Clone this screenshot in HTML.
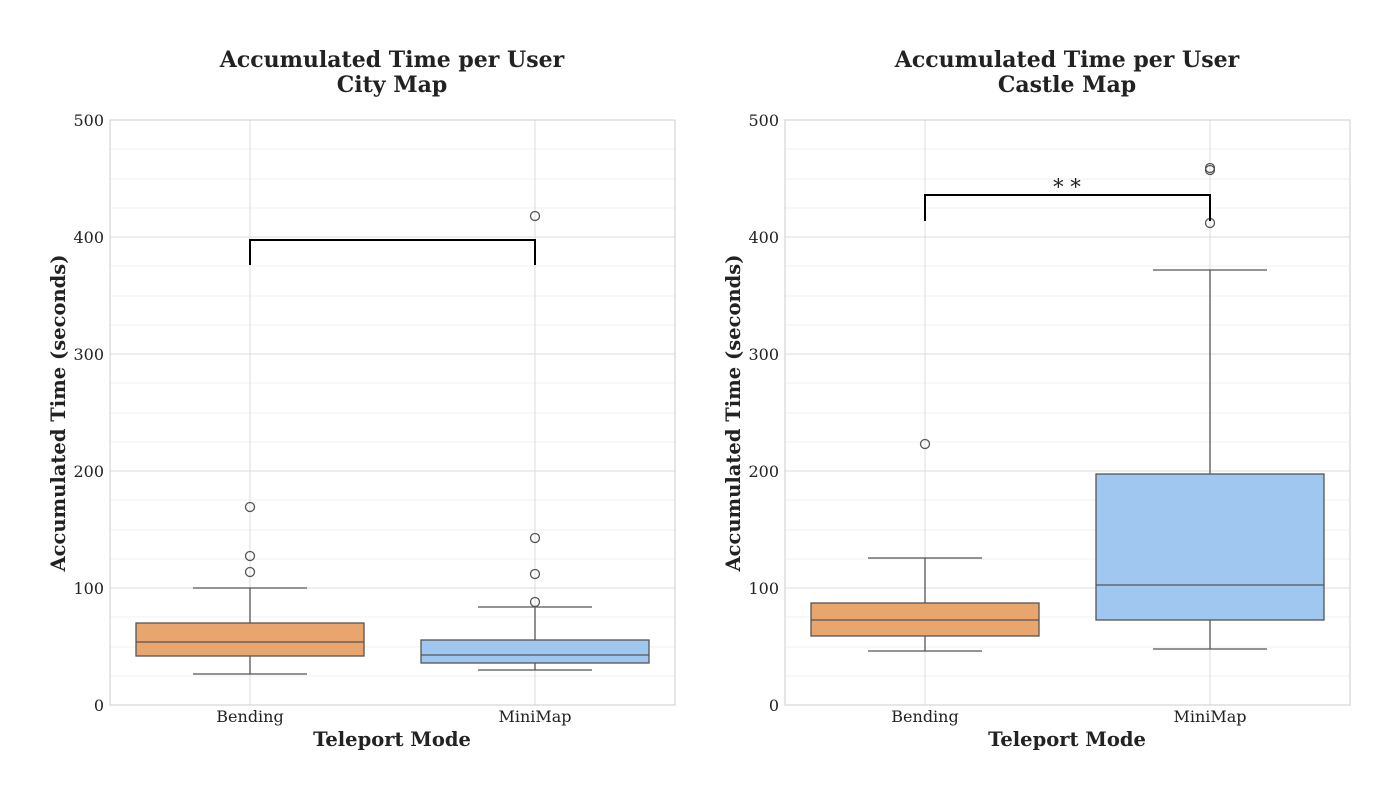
<!DOCTYPE html>
<html><head><style>body{margin:0;background:#fff}svg{display:block}</style></head><body>
<svg width="1400" height="800" xmlns="http://www.w3.org/2000/svg" font-family="DejaVu Serif, Liberation Serif, serif">
<rect width="1400" height="800" fill="#fff"/>
<g id="L">
<g stroke="#f0f0f0" stroke-width="1">
<line x1="110" x2="675" y1="676" y2="676"/><line x1="110" x2="675" y1="647" y2="647"/><line x1="110" x2="675" y1="617" y2="617"/>
<line x1="110" x2="675" y1="559" y2="559"/><line x1="110" x2="675" y1="530" y2="530"/><line x1="110" x2="675" y1="500" y2="500"/>
<line x1="110" x2="675" y1="442" y2="442"/><line x1="110" x2="675" y1="413" y2="413"/><line x1="110" x2="675" y1="383" y2="383"/>
<line x1="110" x2="675" y1="325" y2="325"/><line x1="110" x2="675" y1="296" y2="296"/><line x1="110" x2="675" y1="266" y2="266"/>
<line x1="110" x2="675" y1="208" y2="208"/><line x1="110" x2="675" y1="179" y2="179"/><line x1="110" x2="675" y1="149" y2="149"/>
</g>
<g stroke="#dcdcdc" stroke-width="1">
<line x1="110" x2="675" y1="588" y2="588"/><line x1="110" x2="675" y1="471" y2="471"/><line x1="110" x2="675" y1="354" y2="354"/><line x1="110" x2="675" y1="237" y2="237"/>
<line x1="250" x2="250" y1="120" y2="705"/><line x1="535" x2="535" y1="120" y2="705"/>
</g>
<rect x="110" y="120" width="565" height="585" fill="none" stroke="#cccccc"/>
</g>
<use href="#L" x="675"/>
<g font-size="16" fill="#222" text-anchor="end">
<text x="104" y="711">0</text><text x="104" y="594">100</text><text x="104" y="477">200</text><text x="104" y="360">300</text><text x="104" y="243">400</text><text x="104" y="126">500</text>
<text x="779" y="711">0</text><text x="779" y="594">100</text><text x="779" y="477">200</text><text x="779" y="360">300</text><text x="779" y="243">400</text><text x="779" y="126">500</text>
</g>
<g font-size="16" fill="#222" text-anchor="middle">
<text x="250" y="722">Bending</text><text x="535" y="722">MiniMap</text>
<text x="925" y="722">Bending</text><text x="1210" y="722">MiniMap</text>
</g>
<g font-size="19.5" font-weight="bold" fill="#222" text-anchor="middle">
<text x="392" y="746">Teleport Mode</text><text x="1067" y="746">Teleport Mode</text>
<text transform="translate(65,413) rotate(-90)">Accumulated Time (seconds)</text>
<text transform="translate(740,413) rotate(-90)">Accumulated Time (seconds)</text>
</g>
<g font-size="22" font-weight="bold" fill="#222" text-anchor="middle">
<text x="392" y="67">Accumulated Time per User</text><text x="392" y="92">City Map</text>
<text x="1067" y="67">Accumulated Time per User</text><text x="1067" y="92">Castle Map</text>
</g>
<g stroke="#555" stroke-width="1.3" fill="none">
<line x1="250" x2="250" y1="674" y2="656"/><line x1="250" x2="250" y1="623" y2="588"/>
<line x1="193" x2="307" y1="674" y2="674"/><line x1="193" x2="307" y1="588" y2="588"/>
<rect x="136" y="623" width="228" height="33" fill="#E8A56D"/><line x1="136" x2="364" y1="642" y2="642"/>
<circle cx="250" cy="572" r="4.5"/><circle cx="250" cy="556" r="4.5"/><circle cx="250" cy="507" r="4.5"/>
<line x1="535" x2="535" y1="670" y2="663"/><line x1="535" x2="535" y1="640" y2="607"/>
<line x1="478" x2="592" y1="670" y2="670"/><line x1="478" x2="592" y1="607" y2="607"/>
<rect x="421" y="640" width="228" height="23" fill="#9FC7F0"/><line x1="421" x2="649" y1="655" y2="655"/>
<circle cx="535" cy="602" r="4.5"/><circle cx="535" cy="574" r="4.5"/><circle cx="535" cy="538" r="4.5"/><circle cx="535" cy="216" r="4.5"/>
<line x1="925" x2="925" y1="651" y2="636"/><line x1="925" x2="925" y1="603" y2="558"/>
<line x1="868" x2="982" y1="651" y2="651"/><line x1="868" x2="982" y1="558" y2="558"/>
<rect x="811" y="603" width="228" height="33" fill="#E8A56D"/><line x1="811" x2="1039" y1="620" y2="620"/>
<circle cx="925" cy="444" r="4.5"/>
<line x1="1210" x2="1210" y1="649" y2="620"/><line x1="1210" x2="1210" y1="474" y2="270"/>
<line x1="1153" x2="1267" y1="649" y2="649"/><line x1="1153" x2="1267" y1="270" y2="270"/>
<rect x="1096" y="474" width="228" height="146" fill="#9FC7F0"/><line x1="1096" x2="1324" y1="585" y2="585"/>
<circle cx="1210" cy="223" r="4.5"/><circle cx="1210" cy="170" r="4.5"/><circle cx="1210" cy="168" r="4.5"/>
</g>
<g stroke="#000" stroke-width="2" fill="none">
<polyline points="250,265 250,240 535,240 535,265"/>
<polyline points="925,221 925,195 1210,195 1210,221"/>
</g>
<text x="1067" y="194" font-size="21" text-anchor="middle" fill="#222">* *</text>
</svg>
</body></html>
